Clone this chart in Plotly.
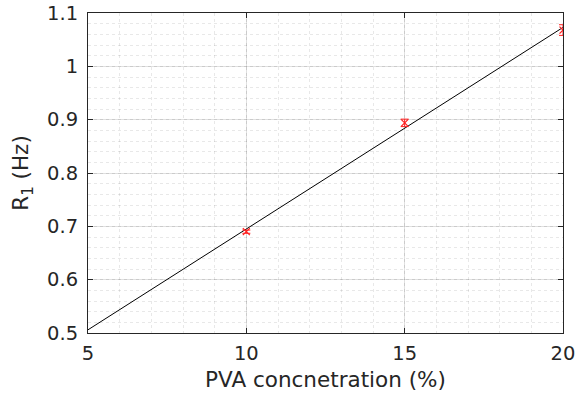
import numpy as np
import plotly.graph_objects as go

# PVA concentration (%) and measured relaxation rate R1 (Hz)
conc = [10, 15, 20]
r1 = [0.690, 0.894, 1.068]
r1_err = [0.003, 0.007, 0.010]

x_ticks = [5, 10, 15, 20]
y_ticks = [0.5, 0.6, 0.7, 0.8, 0.9, 1.0, 1.1]
y_tick_text = ["0.5", "0.6", "0.7", "0.8", "0.9", "1", "1.1"]

# linear fit over the full axis range
slope, intercept = np.polyfit(conc, r1, 1)
fit_x = np.array([5, 20])
fit_y = slope * fit_x + intercept

font = "DejaVu Sans, sans-serif"

fig = go.Figure()
fig.add_trace(go.Scatter(
    x=fit_x, y=fit_y, mode="lines",
    line=dict(color="black", width=1), showlegend=False,
))
fig.add_trace(go.Scatter(
    x=conc, y=r1, mode="markers",
    marker=dict(symbol="x-thin", size=7, line=dict(color="#ff2020", width=1.2)),
    error_y=dict(type="data", array=r1_err, color="#ff2020", thickness=1, width=4),
    showlegend=False,
))

axis_common = dict(
    showline=True, linecolor="#262626", linewidth=1, mirror="ticks",
    ticks="inside", ticklen=5, tickcolor="#262626",
    showgrid=True, gridcolor="rgba(0,0,0,0.12)", gridwidth=1,
    zeroline=False,
    tickfont=dict(family=font, size=19.5, color="#262626"),
)

fig.update_xaxes(
    range=[5, 20], tickvals=x_ticks, ticklabelstandoff=3,
    minor=dict(dtick=1, showgrid=True, gridcolor="rgba(0,0,0,0.09)", griddash="dot", ticks=""),
    title=dict(text="PVA concnetration (%)", font=dict(family=font, size=21.5, color="#262626"), standoff=7),
    **axis_common,
)
fig.update_yaxes(
    range=[0.5, 1.1], tickvals=y_ticks, ticktext=y_tick_text, ticklabelstandoff=5,
    minor=dict(dtick=0.02, showgrid=True, gridcolor="rgba(0,0,0,0.09)", griddash="dot", ticks=""),
    title=dict(text="R<sub>1</sub> (Hz)", font=dict(family=font, size=21.5, color="#262626"), standoff=12),
    **axis_common,
)

fig.update_layout(
    width=585, height=398,
    margin=dict(l=88, r=22, t=13, b=65, autoexpand=False),
    plot_bgcolor="white", paper_bgcolor="white",
)

fig.write_html("out.html")
